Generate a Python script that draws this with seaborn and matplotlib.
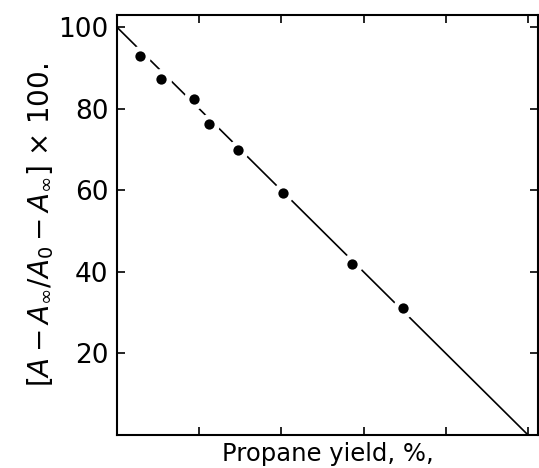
import numpy as np
import pandas as pd
import seaborn as sns
import matplotlib.pyplot as plt

# values
propane_yield = [5.6, 10.7, 18.7, 22.4, 29.4, 40.4, 57.2, 69.6]
ratio = [93.0, 87.3, 82.4, 76.2, 69.9, 59.3, 41.9, 31.1]

fit_x = [0, 100]
fit_y = [100, 0]

y_ticks = [20, 40, 60, 80, 100]
x_ticks = [0, 20, 40, 60, 80, 100]

points = pd.DataFrame({'x': propane_yield, 'y': ratio})
fit = pd.DataFrame({'x': fit_x, 'y': fit_y})

sns.set_style('ticks', {'axes.edgecolor': 'black', 'text.color': 'black',
                        'xtick.color': 'black', 'ytick.color': 'black',
                        'axes.labelcolor': 'black'})
plt.rcParams['font.family'] = ['DejaVu Sans']
plt.rcParams['mathtext.fontset'] = 'dejavusans'

fig = plt.figure(figsize=(5.39, 4.68), dpi=100)
ax = fig.add_axes([0.217, 0.0705, 0.781, 0.8975])

sns.lineplot(data=fit, x='x', y='y', color='black', linewidth=1.2, ax=ax)
# white halo gives the broken line around each point
sns.scatterplot(data=points, x='x', y='y', color='white', s=230,
                linewidth=0, zorder=3, ax=ax)
sns.scatterplot(data=points, x='x', y='y', color='black', s=55,
                linewidth=0, zorder=4, ax=ax)

ax.set_xlim(0, 102.4)
ax.set_ylim(0, 103)
ax.set_xticks(x_ticks)
ax.set_yticks(y_ticks)
ax.set_xticklabels([])
ax.tick_params(direction='in', top=True, right=True, length=6, width=1.2,
               labelsize=19, pad=6)
for s in ax.spines.values():
    s.set_linewidth(1.5)

ax.set_xlabel('Propane yield, %,', fontsize=17.5, labelpad=-1)
ax.set_ylabel(r'$\left[A - A_{\infty}/A_{0} - A_{\infty}\right]$ × 100.',
              fontsize=20, labelpad=2)

fig.savefig('out.png', dpi=100)
